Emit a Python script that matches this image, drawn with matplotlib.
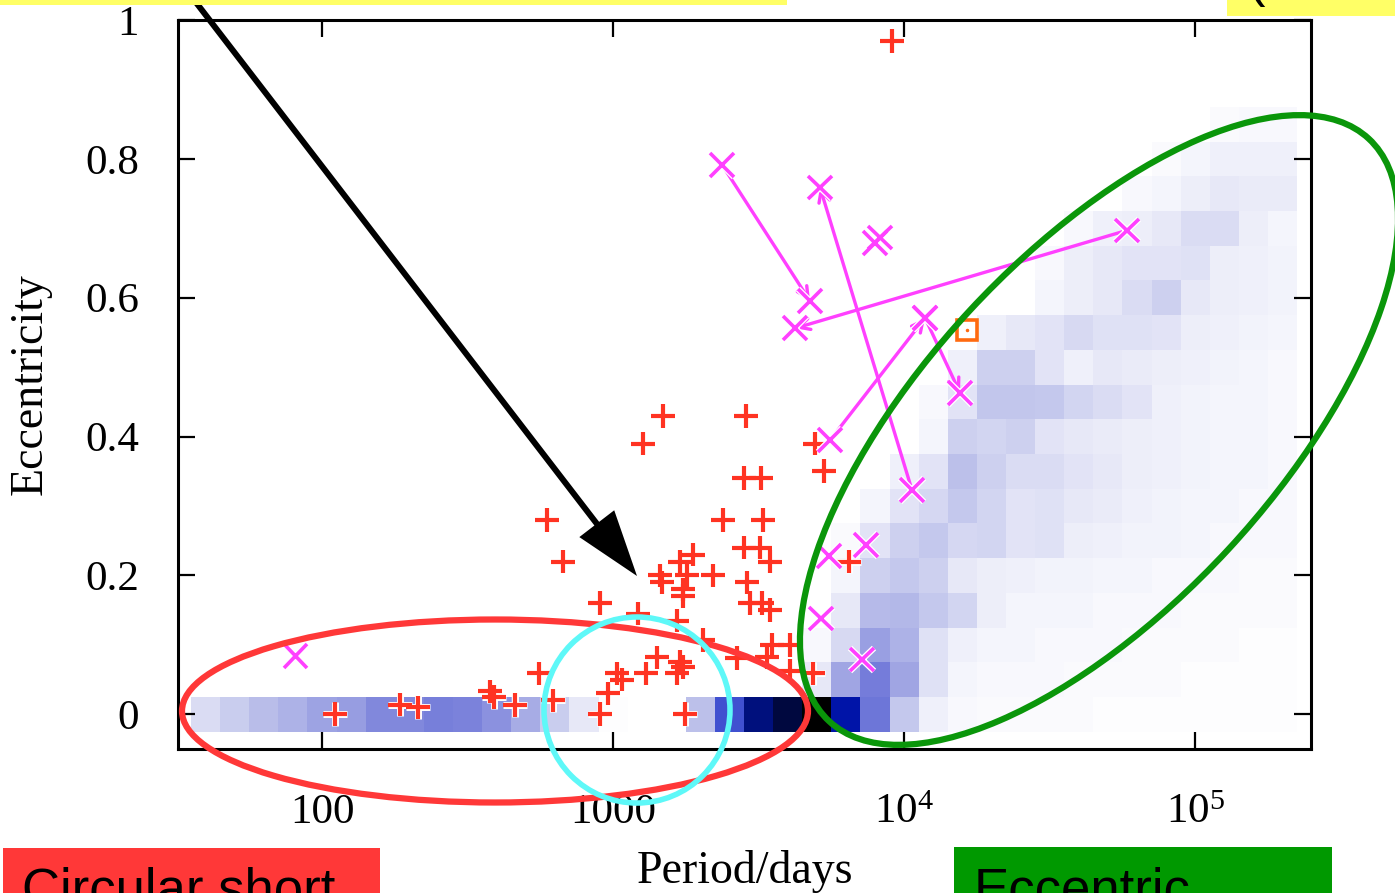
import numpy as np
import matplotlib
matplotlib.use("Agg")
import matplotlib.pyplot as plt
import matplotlib.patheffects as pe
from matplotlib.colors import LinearSegmentedColormap
from matplotlib.patches import Ellipse, Circle, Rectangle, FancyArrow
from matplotlib.ticker import FixedLocator, NullLocator

plt.rcParams['font.family'] = ['Liberation Serif', 'DejaVu Serif']
plt.rcParams['mathtext.fontset'] = 'custom'
plt.rcParams['mathtext.rm'] = 'Liberation Serif'
plt.rcParams['mathtext.it'] = 'Liberation Serif:italic'

# --- simulated density: log10(P) bins 1.6..5.3 (step 0.1), e bins 0..0.85 (step 0.05), in %
density = [
    [14, 20, 26, 30, 35, 37, 44, 44, 47, 46, 41, 32, 20, 9, 1, 0, 0, 25, 65, 84,
     92, 100, 78, 50, 22, 6, 3, 2, 2, 2, 2, 1, 1, 1, 1, 1, 1, 1],
    [0] * 21 + [9, 34, 48, 34, 12, 4, 3, 3, 3, 2, 2, 2, 2, 1, 1, 1, 1],
    [0] * 21 + [3, 15, 36, 30, 12, 6, 4, 4, 3, 3, 3, 2, 2, 2, 2, 1, 1],
    [0] * 22 + [9, 27, 28, 22, 17, 7, 4, 4, 4, 3, 3, 3, 2, 2, 2, 2],
    [0] * 22 + [4, 19, 22, 19, 9, 7, 6, 5, 5, 4, 4, 3, 3, 3, 2, 2],
    [0] * 22 + [2, 11, 19, 22, 16, 17, 11, 12, 7, 6, 5, 5, 4, 3, 3, 3],
    [0] * 23 + [4, 11, 16, 22, 17, 11, 12, 9, 8, 6, 5, 4, 4, 3, 3],
    [0] * 24 + [6, 11, 25, 19, 14, 14, 11, 9, 7, 6, 5, 4, 4, 3],
    [0] * 25 + [4, 19, 17, 19, 11, 9, 8, 7, 6, 5, 4, 4, 3],
    [0] * 25 + [3, 11, 23, 23, 22, 17, 14, 11, 6, 5, 4, 4, 3],
    [0] * 26 + [6, 19, 19, 11, 6, 9, 8, 7, 6, 5, 4, 3],
    [0] * 27 + [6, 9, 11, 15, 12, 12, 11, 7, 6, 5, 4],
    [0] * 29 + [4, 7, 9, 14, 19, 9, 7, 6, 5],
    [0] * 29 + [3, 7, 9, 11, 11, 12, 7, 6, 5],
    [0] * 30 + [3, 6, 7, 9, 14, 14, 7, 4],
    [0] * 32 + [3, 4, 7, 9, 8, 8],
    [0] * 33 + [2, 4, 6, 6, 6],
    [0] * 35 + [2, 3, 3],
]

# --- observed binaries (red +)
obs_period = [9100, 1486, 2864, 1268, 4943, 5309, 2818, 3226, 593, 2388, 3275,
              2818, 3200, 3466, 673, 1884, 1700, 1795, 1452, 2208, 1742, 1742,
              1473, 2884, 2958, 3250, 3466, 902, 1219, 1660, 2037, 2667, 3516,
              4056, 3381, 4056, 4866, 1416, 1698, 1742, 1660, 1297, 1033, 1074,
              961, 622, 902, 1767, 557, 378, 390, 460, 111, 185, 214, 6470]
obs_ecc = [0.97, 0.43, 0.43, 0.39, 0.39, 0.35, 0.34, 0.34, 0.28, 0.28, 0.28,
           0.24, 0.24, 0.22, 0.22, 0.23, 0.22, 0.20, 0.20, 0.20, 0.18, 0.17,
           0.19, 0.19, 0.16, 0.16, 0.15, 0.16, 0.145, 0.135, 0.107, 0.081, 0.10,
           0.10, 0.082, 0.063, 0.059, 0.082, 0.075, 0.068, 0.059, 0.059, 0.059, 0.05,
           0.03, 0.02, 0.0, 0.0, 0.059, 0.033, 0.025, 0.013, 0.0, 0.014, 0.01, 0.22]

# --- single magenta points
mag_period = [81, 7940, 8280, 7400, 5520, 5190, 7180]
mag_ecc = [0.084, 0.679, 0.687, 0.244, 0.228, 0.138, 0.079]

# --- magenta tracks (start -> end)
track_start_p = [2372, 10640, 58300, 5570, 11800]
track_start_e = [0.791, 0.323, 0.697, 0.395, 0.571]
track_end_p = [4753, 5140, 4220, 11800, 15560]
track_end_e = [0.595, 0.759, 0.556, 0.571, 0.463]

# --- orange square
sq_period = [16440]
sq_ecc = [0.553]

xtick_vals = [100, 1000, 1e4, 1e5]
xtick_labels = ['100', '1000', r'$\mathrm{10^{4}}$', r'$\mathrm{10^{5}}$']
ytick_vals = [0, 0.2, 0.4, 0.6, 0.8, 1]
ytick_labels = ['0', '0.2', '0.4', '0.6', '0.8', '1']

cmap = LinearSegmentedColormap.from_list('dens', [
    (0.0, '#ffffff'), (0.25, '#bcc0ea'), (0.5, '#6e76d8'), (0.65, '#4050d0'),
    (0.78, '#0014a8'), (0.84, '#001080'), (0.92, '#000840'), (1.0, '#000000')])

fig = plt.figure(figsize=(13.95, 8.93), dpi=100)
ax = fig.add_axes([178 / 1395, 1 - 749 / 893, 1133 / 1395, 729 / 893])

dens = np.array(density) / 100.0
nrow, ncol = dens.shape
p_edges = 10 ** (1.55 + 0.1 * np.arange(ncol + 1))
e_edges = -0.025 + 0.05 * np.arange(nrow + 1)
ax.pcolormesh(p_edges, e_edges, dens, cmap=cmap, vmin=0, vmax=1, shading='flat', zorder=1)

halo = lambda w: [pe.Stroke(linewidth=w, foreground='white'), pe.Normal()]

for sp, se, ep, ee in zip(track_start_p, track_start_e, track_end_p, track_end_e):
    ax.annotate('', xy=(ep, ee), xytext=(sp, se),
                arrowprops=dict(arrowstyle='->,head_length=0.4,head_width=0.2',
                                color='#ff40ff', lw=2.4, shrinkA=0, shrinkB=0,
                                mutation_scale=20), zorder=3)

ax.plot(obs_period, obs_ecc, '+', ls='none', ms=17, mew=3, color='#ff3322',
        path_effects=halo(5), zorder=4)

all_mag_p = mag_period + track_start_p + track_end_p
all_mag_e = mag_ecc + track_start_e + track_end_e
ax.plot(all_mag_p, all_mag_e, 'x', ls='none', ms=17, mew=2.6, color='#ff40ff',
        path_effects=halo(4.5), zorder=5)

ax.plot(sq_period, sq_ecc, 's', ms=15, mfc='none', mec='#ff6a10', mew=2.6, zorder=5)
ax.plot(sq_period, sq_ecc, '.', ms=3, color='#ff6a10', zorder=5)

ax.set_xscale('log')
ax.set_xlim(32, 2.5e5)
ax.set_ylim(-0.05, 1.0)
ax.xaxis.set_major_locator(FixedLocator(xtick_vals))
ax.xaxis.set_minor_locator(NullLocator())
ax.set_xticklabels(xtick_labels)
ax.set_yticks(ytick_vals)
ax.set_yticklabels(ytick_labels)
ax.tick_params(which='both', direction='in', length=12, width=1.6, top=True, right=True,
               labelsize=31, pad=32)
ax.tick_params(axis='y', pad=28)
for s in ax.spines.values():
    s.set_linewidth(2.2)

ax.set_xlabel('Period/days', fontsize=33)
ax.set_ylabel('Eccentricity', fontsize=33)
ax.xaxis.set_label_coords(0.5, (749 - 850) / 729)
ax.yaxis.set_label_coords((52 - 178) / 1133, 0.5)

# --- overlay annotations in pixel coordinates
ov = fig.add_axes([0, 0, 1, 1], zorder=10)
ov.set_xlim(0, 1395)
ov.set_ylim(893, 0)
ov.axis('off')
ov.patch.set_alpha(0)

ov.add_patch(Ellipse((1099, 430), 794, 352, angle=-47.2, fill=False, ec='#0a960a', lw=4.5))
ov.add_patch(Ellipse((495, 711), 626, 183, fill=False, ec='#ff3838', lw=4.5))
ov.add_patch(Circle((637, 710), 93, fill=False, ec='#5ef8f8', lw=4))
ov.add_patch(FancyArrow(188, -8, 449, 584, width=6, head_width=44, head_length=66,
                        length_includes_head=True, color='black', lw=0))

ov.add_patch(Rectangle((0, -5), 787, 10, color='#ffff66', lw=0))
ov.add_patch(Rectangle((1227, -5), 168, 21, color='#ffff66', lw=0))
ov.text(1248, -4, '(', fontsize=38, family='Liberation Sans', va='baseline')

ov.add_patch(Rectangle((3, 848), 377, 50, color='#ff3838', lw=0))
ov.add_patch(Rectangle((954, 847), 378, 50, color='#009900', lw=0))
ov.text(22, 906, 'Circular short', fontsize=38, family='Liberation Sans', va='baseline')
ov.text(974, 905, 'Eccentric', fontsize=38, family='Liberation Sans', va='baseline')

fig.savefig('out.png', dpi=100)
